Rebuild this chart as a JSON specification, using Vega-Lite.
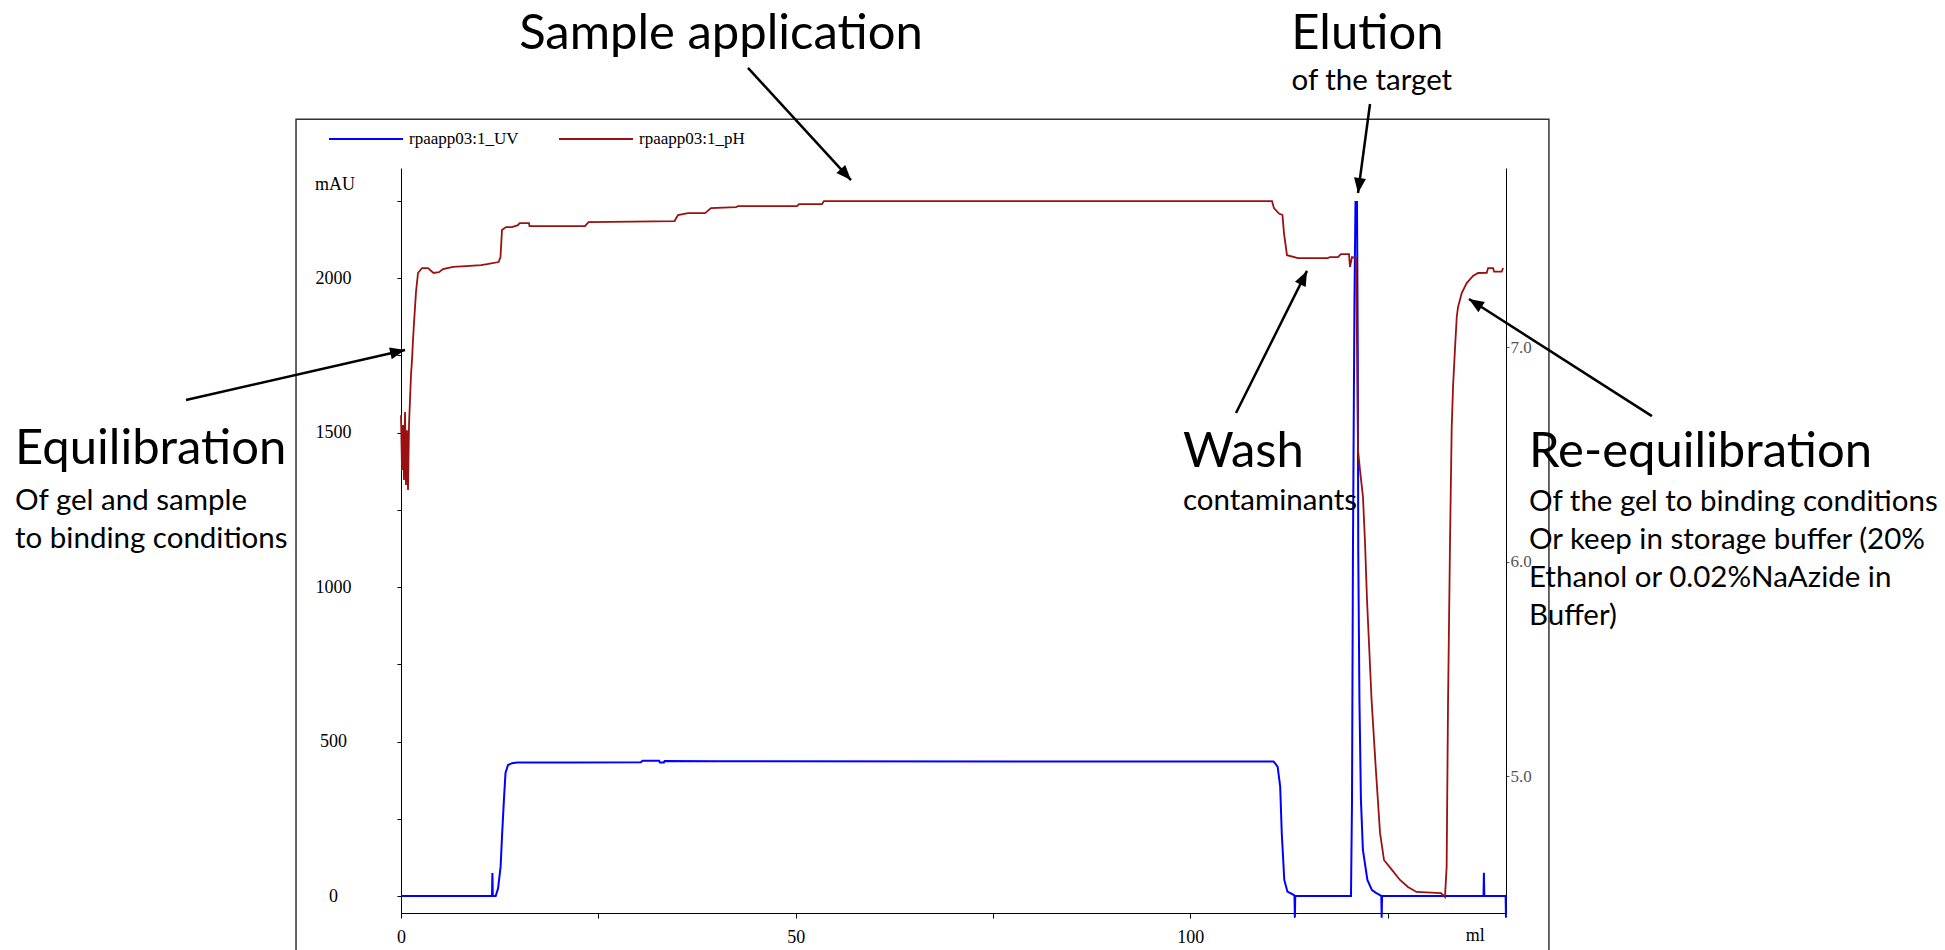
{
  "$schema": "https://vega.github.io/schema/vega-lite/v6.json",
  "width": 1105,
  "height": 745,
  "autosize": {"type": "none"},
  "padding": {"left": 401, "top": 168, "right": 439, "bottom": 37},
  "background": "white",
  "config": {"view": {"stroke": null}, "font": "Lato"},
  "datasets": {
    "uv": [
      {"ml": 0, "mAU": 0}, {"ml": 11.53, "mAU": 0}, {"ml": 11.58, "mAU": 74}, {"ml": 11.63, "mAU": 0},
      {"ml": 12.0, "mAU": 0}, {"ml": 12.3, "mAU": 25}, {"ml": 12.62, "mAU": 95}, {"ml": 12.82, "mAU": 204},
      {"ml": 13.04, "mAU": 311}, {"ml": 13.24, "mAU": 398}, {"ml": 13.56, "mAU": 424}, {"ml": 14.06, "mAU": 430},
      {"ml": 14.7, "mAU": 432}, {"ml": 22, "mAU": 432}, {"ml": 30.4, "mAU": 433}, {"ml": 30.6, "mAU": 438},
      {"ml": 32.7, "mAU": 438}, {"ml": 32.8, "mAU": 432}, {"ml": 33.3, "mAU": 432}, {"ml": 33.4, "mAU": 437},
      {"ml": 40, "mAU": 436}, {"ml": 110.55, "mAU": 435}, {"ml": 110.8, "mAU": 428}, {"ml": 111.07, "mAU": 418},
      {"ml": 111.39, "mAU": 354}, {"ml": 111.59, "mAU": 203}, {"ml": 111.91, "mAU": 52}, {"ml": 112.31, "mAU": 14},
      {"ml": 113.14, "mAU": 3}, {"ml": 113.2, "mAU": 0}, {"ml": 113.25, "mAU": -70}, {"ml": 113.3, "mAU": 0},
      {"ml": 120.36, "mAU": 0}, {"ml": 120.49, "mAU": 311}, {"ml": 120.61, "mAU": 1120}, {"ml": 120.8, "mAU": 1929},
      {"ml": 120.93, "mAU": 2246}, {"ml": 121.12, "mAU": 2246}, {"ml": 121.22, "mAU": 1767}, {"ml": 121.28, "mAU": 1120},
      {"ml": 121.43, "mAU": 634}, {"ml": 121.62, "mAU": 311}, {"ml": 121.87, "mAU": 149}, {"ml": 122.44, "mAU": 52},
      {"ml": 123.02, "mAU": 19}, {"ml": 123.53, "mAU": 10}, {"ml": 124.04, "mAU": 3}, {"ml": 124.2, "mAU": 0},
      {"ml": 124.25, "mAU": -70}, {"ml": 124.3, "mAU": 0}, {"ml": 137.15, "mAU": 0}, {"ml": 137.2, "mAU": 75},
      {"ml": 137.25, "mAU": 0}, {"ml": 139.95, "mAU": 0}, {"ml": 140, "mAU": -70}
    ],
    "ph": [
      {"ml": 0, "pH": 6.683}, {"ml": 0.127, "pH": 6.427}, {"ml": 0.253, "pH": 6.637}, {"ml": 0.38, "pH": 6.381},
      {"ml": 0.507, "pH": 6.697}, {"ml": 0.633, "pH": 6.357}, {"ml": 0.76, "pH": 6.613}, {"ml": 0.887, "pH": 6.334},
      {"ml": 1.014, "pH": 6.637}, {"ml": 1.14, "pH": 6.753}, {"ml": 1.267, "pH": 6.87}, {"ml": 1.394, "pH": 6.939},
      {"ml": 1.52, "pH": 7.033}, {"ml": 1.647, "pH": 7.112}, {"ml": 1.9, "pH": 7.256}, {"ml": 2.154, "pH": 7.345},
      {"ml": 2.661, "pH": 7.368}, {"ml": 3.421, "pH": 7.368}, {"ml": 4.118, "pH": 7.345}, {"ml": 4.814, "pH": 7.349},
      {"ml": 5.321, "pH": 7.363}, {"ml": 6.588, "pH": 7.373}, {"ml": 8.235, "pH": 7.377}, {"ml": 10.136, "pH": 7.382},
      {"ml": 10.896, "pH": 7.386}, {"ml": 12.366, "pH": 7.396}, {"ml": 12.606, "pH": 7.419}, {"ml": 12.796, "pH": 7.545},
      {"ml": 13.303, "pH": 7.559}, {"ml": 14.063, "pH": 7.559}, {"ml": 14.823, "pH": 7.568}, {"ml": 15.026, "pH": 7.577},
      {"ml": 16.217, "pH": 7.577}, {"ml": 16.28, "pH": 7.563}, {"ml": 23.312, "pH": 7.563}, {"ml": 23.755, "pH": 7.582},
      {"ml": 34.664, "pH": 7.587}, {"ml": 35.094, "pH": 7.615}, {"ml": 36.361, "pH": 7.624}, {"ml": 38.515, "pH": 7.624},
      {"ml": 39.275, "pH": 7.647}, {"ml": 42.443, "pH": 7.652}, {"ml": 42.696, "pH": 7.656}, {"ml": 50.171, "pH": 7.656},
      {"ml": 50.424, "pH": 7.666}, {"ml": 53.338, "pH": 7.666}, {"ml": 53.592, "pH": 7.68}, {"ml": 110.35, "pH": 7.68},
      {"ml": 110.6, "pH": 7.647}, {"ml": 111.24, "pH": 7.622}, {"ml": 111.68, "pH": 7.615}, {"ml": 111.87, "pH": 7.531},
      {"ml": 112.25, "pH": 7.428}, {"ml": 113.65, "pH": 7.414}, {"ml": 117.38, "pH": 7.414}, {"ml": 117.7, "pH": 7.419},
      {"ml": 118.71, "pH": 7.419}, {"ml": 119.09, "pH": 7.433}, {"ml": 120.11, "pH": 7.433}, {"ml": 120.23, "pH": 7.373},
      {"ml": 120.49, "pH": 7.419}, {"ml": 120.99, "pH": 7.414}, {"ml": 121.12, "pH": 7.019}, {"ml": 121.25, "pH": 6.52},
      {"ml": 121.5, "pH": 6.427}, {"ml": 121.88, "pH": 6.302}, {"ml": 122.14, "pH": 6.087}, {"ml": 122.39, "pH": 5.822},
      {"ml": 122.97, "pH": 5.356}, {"ml": 123.49, "pH": 5.044}, {"ml": 124.04, "pH": 4.737}, {"ml": 124.54, "pH": 4.611},
      {"ml": 125.55, "pH": 4.565}, {"ml": 126.57, "pH": 4.518}, {"ml": 127.58, "pH": 4.485}, {"ml": 128.66, "pH": 4.462},
      {"ml": 131.76, "pH": 4.457}, {"ml": 132.27, "pH": 4.439}, {"ml": 132.48, "pH": 4.579}, {"ml": 132.65, "pH": 5.324},
      {"ml": 132.91, "pH": 6.101}, {"ml": 133.12, "pH": 6.627}, {"ml": 133.29, "pH": 6.814}, {"ml": 133.54, "pH": 6.995},
      {"ml": 133.76, "pH": 7.14}, {"ml": 133.92, "pH": 7.186}, {"ml": 134.39, "pH": 7.251}, {"ml": 135.02, "pH": 7.298},
      {"ml": 135.82, "pH": 7.331}, {"ml": 136.46, "pH": 7.345}, {"ml": 137.56, "pH": 7.346}, {"ml": 137.73, "pH": 7.368},
      {"ml": 138.36, "pH": 7.368}, {"ml": 138.49, "pH": 7.351}, {"ml": 139.46, "pH": 7.351}, {"ml": 139.63, "pH": 7.368}
    ],
    "frame": [
      {"ml": -13.3, "ml2": 145.44, "mAU": 2514, "mAU2": -300}
    ],
    "arrows": [
      {"ml": 43.96, "mAU": 2680, "ml2": 57.01, "mAU2": 2317},
      {"ml": 122.77, "mAU": 2563, "ml2": 121.25, "mAU2": 2275},
      {"ml": -27.24, "mAU": 1605, "ml2": 0.51, "mAU2": 1767},
      {"ml": 105.79, "mAU": 1563, "ml2": 114.79, "mAU2": 2023},
      {"ml": 158.49, "mAU": 1553, "ml2": 135.31, "mAU2": 1932}
    ],
    "unitLabels": [
      {"label": "mAU", "ml": -8.36, "mAU": 2301},
      {"label": "ml", "ml": 136.1, "mAU": -128}
    ],
    "titlesCenter": [
      {"label": "Sample application", "ml": 40.54, "mAU": 2741},
      {"label": "Elution", "ml": 122.44, "mAU": 2741}
    ],
    "titlesLeft": [
      {"label": "Equilibration", "ml": -48.9, "mAU": 1398},
      {"label": "Wash", "ml": 99.07, "mAU": 1388},
      {"label": "Re-equilibration", "ml": 142.91, "mAU": 1388}
    ],
    "notesCenter": [
      {"label": "of the target", "ml": 123.0, "mAU": 2608}
    ],
    "notesLeft": [
      {"label": "Of gel and sample", "ml": -48.9, "mAU": 1249},
      {"label": "to binding conditions", "ml": -48.9, "mAU": 1126},
      {"label": "contaminants", "ml": 99.07, "mAU": 1249},
      {"label": "Of the gel to binding conditions", "ml": 142.91, "mAU": 1246},
      {"label": "Or keep in storage buffer (20%", "ml": 142.91, "mAU": 1123},
      {"label": "Ethanol or 0.02%NaAzide in", "ml": 142.91, "mAU": 1000},
      {"label": "Buffer)", "ml": 142.91, "mAU": 877}
    ]
  },
  "encoding": {
    "x": {
      "field": "ml",
      "type": "quantitative",
      "scale": {"domain": [0, 140], "nice": false, "zero": false},
      "axis": {
        "values": [0, 25, 50, 75, 100, 125],
        "labelExpr": "datum.value % 50 === 0 ? datum.label : ''",
        "format": "d",
        "tickSize": 5,
        "labelPadding": 10,
        "labelFont": "Liberation Serif",
        "labelFontSize": 18,
        "labelColor": "#000",
        "labelFlush": false,
        "domainColor": "#000",
        "tickColor": "#000",
        "grid": false,
        "title": null
      }
    }
  },
  "layer": [
    {
      "encoding": {
        "y": {
          "field": "mAU",
          "type": "quantitative",
          "scale": {"domain": [-55, 2356], "nice": false, "zero": false},
          "axis": {
            "orient": "left",
            "values": [0, 250, 500, 750, 1000, 1250, 1500, 1750, 2000, 2250],
            "labelExpr": "datum.value % 500 === 0 ? datum.label : ''",
            "format": "d",
            "tickSize": 4,
            "labelPadding": 64,
            "labelAlign": "center",
            "labelBaseline": "middle",
            "labelFont": "Liberation Serif",
            "labelFontSize": 18,
            "labelColor": "#000",
            "domainColor": "#000",
            "tickColor": "#000",
            "grid": false,
            "title": null
          }
        }
      },
      "layer": [
        {
          "data": {"name": "frame"},
          "mark": {"type": "rect", "fill": "#ffffff", "fillOpacity": 0, "stroke": "#333333", "strokeWidth": 1.5},
          "encoding": {
            "x2": {"field": "ml2"},
            "y2": {"field": "mAU2"}
          }
        },
        {
          "data": {"name": "uv"},
          "mark": {"type": "line", "strokeWidth": 2},
          "encoding": {
            "color": {
              "datum": "rpaapp03:1_UV",
              "type": "nominal",
              "scale": {"domain": ["rpaapp03:1_UV", "rpaapp03:1_pH"], "range": ["#0000ff", "#991111"]},
              "legend": {
                "orient": "none",
                "legendX": -73,
                "legendY": -67,
                "direction": "horizontal",
                "title": null,
                "symbolType": "stroke",
                "symbolSize": 5476,
                "symbolStrokeWidth": 2,
                "labelFont": "Liberation Serif",
                "labelFontSize": 17,
                "labelColor": "#000",
                "labelOffset": 5,
                "columnPadding": 36,
                "padding": 0
              }
            }
          }
        },
        {
          "data": {"name": "arrows"},
          "mark": {"type": "rule", "color": "#000", "strokeWidth": 2.5},
          "encoding": {
            "x2": {"field": "ml2"},
            "y2": {"field": "mAU2"}
          }
        },
        {
          "data": {"name": "arrows"},
          "transform": [
            {"calculate": "atan2((datum.ml2 - datum.ml) * 7.893, (datum.mAU2 - datum.mAU) * 0.309) * 180 / PI", "as": "ang"}
          ],
          "mark": {"type": "point", "shape": "M0,0L-0.4,1L0.4,1Z", "size": 900, "filled": true, "color": "#000", "opacity": 1, "strokeWidth": 0},
          "encoding": {
            "x": {"field": "ml2", "type": "quantitative"},
            "y": {"field": "mAU2", "type": "quantitative"},
            "angle": {"field": "ang", "type": "quantitative", "scale": null}
          }
        },
        {
          "data": {"name": "unitLabels"},
          "mark": {"type": "text", "font": "Liberation Serif", "fontSize": 18, "align": "center", "baseline": "middle", "color": "#000"},
          "encoding": {"text": {"field": "label"}}
        },
        {
          "data": {"name": "titlesCenter"},
          "mark": {"type": "text", "font": "Lato", "fontSize": 49, "align": "center", "baseline": "alphabetic", "color": "#000"},
          "encoding": {"text": {"field": "label"}}
        },
        {
          "data": {"name": "titlesLeft"},
          "mark": {"type": "text", "font": "Lato", "fontSize": 49, "align": "left", "baseline": "alphabetic", "color": "#000"},
          "encoding": {"text": {"field": "label"}}
        },
        {
          "data": {"name": "notesCenter"},
          "mark": {"type": "text", "font": "Lato", "fontSize": 29.5, "align": "center", "baseline": "alphabetic", "color": "#000"},
          "encoding": {"text": {"field": "label"}}
        },
        {
          "data": {"name": "notesLeft"},
          "mark": {"type": "text", "font": "Lato", "fontSize": 29.5, "align": "left", "baseline": "alphabetic", "color": "#000"},
          "encoding": {"text": {"field": "label"}}
        }
      ]
    },
    {
      "data": {"name": "ph"},
      "mark": {"type": "line", "strokeWidth": 1.8},
      "encoding": {
        "y": {
          "field": "pH",
          "type": "quantitative",
          "scale": {"domain": [4.364, 7.834], "nice": false, "zero": false},
          "axis": {
            "orient": "right",
            "values": [5, 6, 7],
            "format": ".1f",
            "tickSize": 3,
            "labelPadding": 1,
            "labelFont": "Liberation Serif",
            "labelFontSize": 17,
            "labelColor": "#555",
            "domainColor": "#000",
            "tickColor": "#555",
            "grid": false,
            "title": null
          }
        },
        "color": {
          "datum": "rpaapp03:1_pH",
          "type": "nominal",
          "scale": {"domain": ["rpaapp03:1_UV", "rpaapp03:1_pH"], "range": ["#0000ff", "#991111"]}
        }
      }
    }
  ],
  "resolve": {"scale": {"y": "independent"}}
}
